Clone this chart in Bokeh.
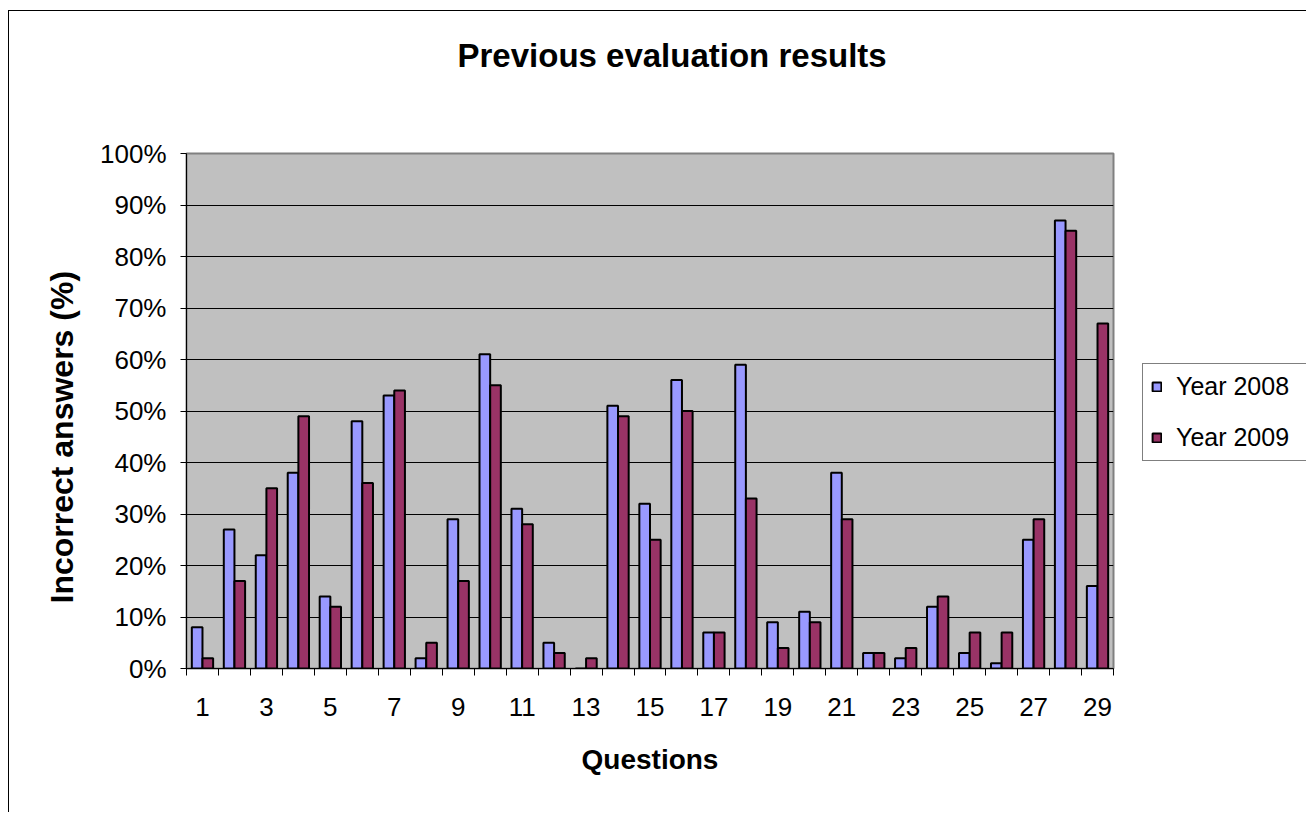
from bokeh.plotting import figure
from bokeh.models import (FixedTicker, Legend, LegendItem, ColumnDataSource,
                          PrintfTickFormatter, Range1d, Title, LinearAxis)
from bokeh.transform import dodge
from bokeh.embed import file_html
from bokeh.resources import INLINE

questions = list(range(1, 30))
year_2008 = [8, 27, 22, 38, 14, 48, 53, 2, 29, 61, 31, 5, 0, 51, 32, 56, 7, 59, 9, 11,
             38, 3, 2, 12, 3, 1, 25, 87, 16]
year_2009 = [2, 17, 35, 49, 12, 36, 54, 5, 17, 55, 28, 3, 2, 49, 25, 50, 7, 33, 4, 9,
             29, 3, 4, 14, 7, 7, 29, 85, 67]
x_tick_values = [q for q in questions if q % 2 == 1]
y_tick_values = list(range(0, 101, 10))
series_names = ["Year 2008", "Year 2009"]
series_colors = ["#9999FF", "#993366"]
chart_title = "Previous evaluation results"

FONT = "Liberation Sans"

source = ColumnDataSource(dict(q=questions, y2008=year_2008, y2009=year_2009))

p = figure(
    output_backend="svg", toolbar_location=None,
    frame_width=927, frame_height=515,
    min_border_left=177, min_border_right=192,
    min_border_top=142, min_border_bottom=144,
    x_range=Range1d(0.5, 29.5), y_range=Range1d(0, 100),
    background_fill_color="#C0C0C0", border_fill_color="white",
    outline_line_color="#808080", outline_line_width=2,
)
p.title = None
p.styles = {"border-left": "1px solid black", "border-top": "1px solid black"}
p.margin = (10, 0, 0, 8)

# empty spacer between the frame and the title (invisible tick, no label, no line)
spacer = LinearAxis(ticker=FixedTicker(ticks=[0.5]), axis_line_color=None,
                    major_tick_out=80, major_tick_in=0, major_tick_line_color=None,
                    minor_tick_out=0, minor_tick_in=0,
                    major_label_overrides={0.5: ""}, major_label_text_font_size="1px",
                    major_label_text_color=None, major_label_standoff=0)
p.add_layout(spacer, "above")

# title, stacked outside the spacer
title = Title(text=chart_title, align="left", offset=271, vertical_align="bottom",
              standoff=0, text_font=FONT, text_font_size="33px",
              text_font_style="bold", text_color="black")
p.add_layout(title, "above")

# grid
p.xgrid.grid_line_color = None
p.ygrid.grid_line_color = "black"
p.ygrid.grid_line_width = 1
p.ygrid.ticker = FixedTicker(ticks=y_tick_values)

# bars
r1 = p.vbar(x=dodge("q", -1/6, range=p.x_range), top="y2008", width=1/3, source=source,
            fill_color=series_colors[0], line_color="black", line_width=2)
r2 = p.vbar(x=dodge("q", 1/6, range=p.x_range), top="y2009", width=1/3, source=source,
            fill_color=series_colors[1], line_color="black", line_width=2)

# x axis
xa = p.below[0]
xa.ticker = FixedTicker(ticks=x_tick_values,
                        minor_ticks=[q - 0.5 for q in questions] + [questions[-1] + 0.5])
xa.major_tick_out = 0
xa.major_tick_in = 0
xa.minor_tick_out = 7
xa.minor_tick_in = 0
xa.minor_tick_line_color = "black"
xa.axis_line_color = "black"
xa.major_label_text_font = FONT
xa.major_label_text_font_size = "26px"
xa.major_label_text_color = "black"
xa.major_label_standoff = 22
xa.axis_label = "Questions"
xa.axis_label_text_font = FONT
xa.axis_label_text_font_size = "28px"
xa.axis_label_text_font_style = "bold"
xa.axis_label_text_color = "black"
xa.axis_label_standoff = 25

# y axis
ya = p.left[0]
ya.ticker = FixedTicker(ticks=y_tick_values)
ya.formatter = PrintfTickFormatter(format="%d%%")
ya.major_tick_out = 6
ya.major_tick_in = 0
ya.minor_tick_out = 0
ya.minor_tick_in = 0
ya.major_tick_line_color = "black"
ya.axis_line_color = "black"
ya.major_label_text_font = FONT
ya.major_label_text_font_size = "26px"
ya.major_label_text_color = "black"
ya.major_label_standoff = 14

# y axis title, as a side title so it can sit a little below the frame centre
y_title = Title(text="Incorrect answers (%)", align="left", offset=65, standoff=36,
                text_font=FONT, text_font_size="32px", text_font_style="bold",
                text_color="black")
p.add_layout(y_title, "left")

# legend in the right-hand panel
legend = Legend(
    items=[LegendItem(label=series_names[0], renderers=[r1]),
           LegendItem(label=series_names[1], renderers=[r2])],
    location=(29, 207),
    border_line_color="black", border_line_width=1,
    background_fill_color="white", background_fill_alpha=1,
    label_text_font=FONT, label_text_font_size="25px", label_text_color="black",
    glyph_width=11, glyph_height=11, label_height=28, label_width=150, label_standoff=14,
    padding=8, spacing=22, margin=0,
)
p.add_layout(legend, "right")

open("out.html", "w").write(file_html(p, INLINE))
